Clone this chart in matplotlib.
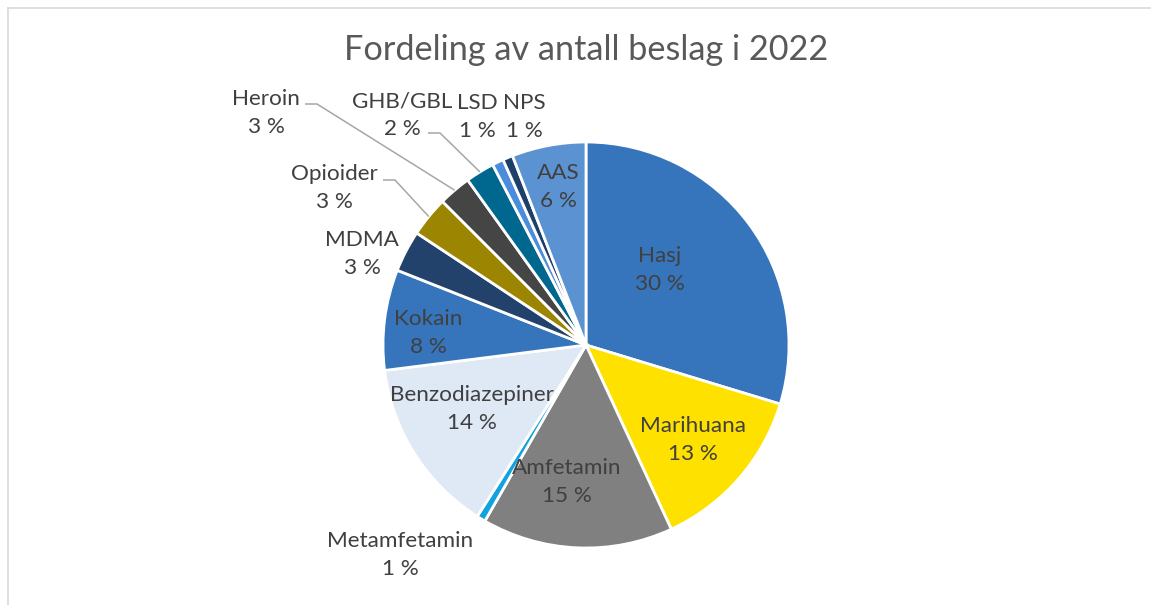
import numpy as np
import matplotlib.pyplot as plt

# shares of seizures 2022 (percent), clockwise from 12 o'clock
drugs = ['Hasj', 'Marihuana', 'Amfetamin', 'Metamfetamin', 'Benzodiazepiner',
         'Kokain', 'MDMA', 'Opioider', 'Heroin', 'GHB/GBL', 'LSD', 'NPS', 'AAS']
shares = [29.7, 13.4, 15.2, 0.7, 14.0, 8.0, 3.3, 3.2, 2.6, 2.3, 0.9, 0.8, 5.9]
colors = ['#3675BB', '#FFE100', '#808080', '#10A3E0', '#DFE8F5',
          '#3675BB', '#22416B', '#9C8500', '#454545', '#00688F',
          '#4C8CDC', '#1F3F6B', '#5B93D2']

# label centres in pixel coords (x, y from top)
label_pos = {
    'Hasj': (660, 270), 'Marihuana': (693, 440), 'Amfetamin': (567, 482),
    'Metamfetamin': (400, 555), 'Benzodiazepiner': (472, 409), 'Kokain': (428, 333),
    'MDMA': (362, 254), 'Opioider': (334, 188), 'Heroin': (266, 113),
    'GHB/GBL': (402, 115), 'LSD': (477, 117), 'NPS': (524, 117), 'AAS': (558, 187),
}
# leader line start points (pixel) for the labels that have one
leaders = {'Heroin': (305, 104), 'Opioider': (383, 180), 'GHB/GBL': (428, 133)}

W, H = 1151, 605
cx, cy, R = 586, 345, 203

plt.rcParams['font.family'] = ['Lato', 'DejaVu Sans']
fig = plt.figure(figsize=(W / 100, H / 100), dpi=100)
ax = fig.add_axes([0, 0, 1, 1])
ax.set_xlim(0, W)
ax.set_ylim(0, H)
ax.set_aspect('equal')
ax.axis('off')

wedges, _ = ax.pie(shares, colors=colors, startangle=90, counterclock=False,
                   center=(cx, H - cy), radius=R,
                   wedgeprops=dict(edgecolor='white', linewidth=2.0))
ax.set_xlim(0, W)
ax.set_ylim(0, H)

for w, name, val in zip(wedges, drugs, shares):
    x, y = label_pos[name]
    ax.text(x, H - y, f'{name}\n{round(val)} %', ha='center', va='center',
            fontsize=16.2, color='#404040', linespacing=1.5)
    if name in leaders:
        mid = np.deg2rad((w.theta1 + w.theta2) / 2)
        ex = cx + R * np.cos(mid)
        ey = (H - cy) + R * np.sin(mid)
        sx, sy = leaders[name]
        ax.plot([sx, sx + 12, ex], [H - sy, H - sy, ey], color='#A6A6A6', lw=1.1,
                solid_capstyle='butt')

ax.text(cx, H - 50, 'Fordeling av antall beslag i 2022', ha='center', va='center',
        fontsize=24.7, color='#595959')

# chart frame (extends past right/bottom edge)
ax.plot([8.5, W], [H - 7.5, H - 7.5], color='#D9D9D9', lw=1.2)
ax.plot([8.5, 8.5], [0, H - 7.5], color='#D9D9D9', lw=1.2)

fig.savefig('out.png', dpi=100)
